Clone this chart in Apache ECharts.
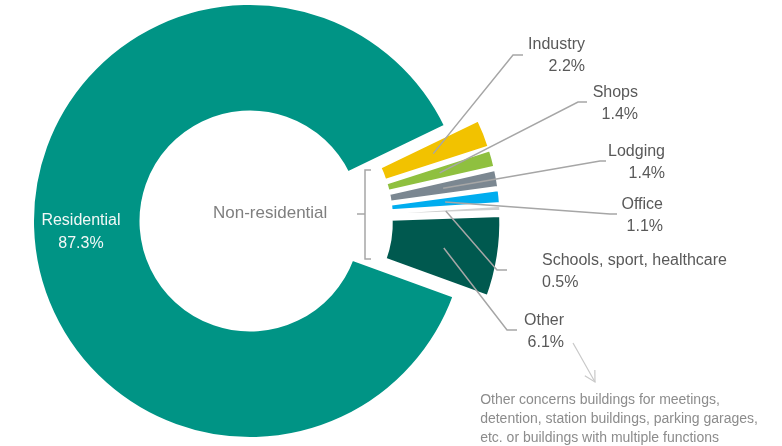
<!DOCTYPE html>
<html>
<head>
<meta charset="utf-8">
<script src="https://cdn.jsdelivr.net/npm/echarts@6/dist/echarts.min.js"></script>
<style>
  html, body { margin: 0; background: #fff; }
  #chart { width: 782px; height: 446px; }
</style>
</head>
<body>
<div id="chart"></div>
<script>
// building floor area by use, share in %
const categories = ['Residential', 'Industry', 'Shops', 'Lodging', 'Office', 'Schools, sport, healthcare', 'Other'];
const shares = [87.3, 2.2, 1.4, 1.4, 1.1, 0.5, 6.1];
const sliceColors = ['#009485', '#F2C200', '#8FC03F', '#7B8791', '#00ADEF', '#D0D0D0', '#00594F'];
const noteLines = [
  'Other concerns buildings for meetings,',
  'detention, station buildings, parking garages,',
  'etc. or buildings with multiple functions'
];

// label placement for the exploded slices: text anchor, align, leader elbow and end
const labelSpots = [
  null,
  { x: 585, y: 56, align: 'right', ex: 513, ey: 55, tx: 523 },
  { x: 638, y: 104, align: 'right', ex: 578, ey: 102, tx: 587 },
  { x: 665, y: 163, align: 'right', ex: 600, ey: 161, tx: 606 },
  { x: 663, y: 216, align: 'right', ex: 610, ey: 214, tx: 617 },
  { x: 542, y: 272, align: 'left', ex: 497, ey: 270, tx: 507 },
  { x: 564, y: 332, align: 'right', ex: 507, ey: 330, tx: 517 }
];

const mainCenter = [250, 221];
const sideCenter = [267, 220];
const ring = [108, 218.5];
const fontFamily = '"Liberation Sans", Arial, sans-serif';

const chart = echarts.init(document.getElementById('chart'));

// mode: 'main' = only residential, 'side' = the exploded small slices, 'labels' = invisible, carries labels
function sliceData(mode) {
  return categories.map((name, i) => {
    const hidden = {
      name: name, value: shares[i],
      itemStyle: { color: 'transparent', borderWidth: 0 },
      label: { show: false }, labelLine: { show: false }
    };
    if (mode === 'main') {
      return i === 0 ? { name: name, value: shares[i], itemStyle: { color: sliceColors[i] } } : hidden;
    }
    if (i === 0) return hidden;
    if (mode === 'side') return { name: name, value: shares[i], selected: true, itemStyle: { color: sliceColors[i] } };
    return { name: name, value: shares[i], itemStyle: { color: 'transparent', borderWidth: 0 } };
  });
}

// little arrow from "Other" down to the note
const arrowFrom = [573, 343], arrowTo = [595, 382];
function headPoint(sign) {
  const a = Math.atan2(arrowFrom[1] - arrowTo[1], arrowFrom[0] - arrowTo[0]) + sign * 0.5;
  return [arrowTo[0] + Math.cos(a) * 12, arrowTo[1] + Math.sin(a) * 12];
}

chart.setOption({
  animation: false,
  series: [
    {
      type: 'pie',
      silent: true,
      center: mainCenter,
      radius: ring,
      startAngle: -20,
      clockwise: true,
      avoidLabelOverlap: false,
      itemStyle: { borderColor: '#fff', borderWidth: 5 },
      label: {
        position: 'inside',
        color: '#F2F8F7',
        fontFamily: fontFamily,
        fontSize: 16,
        lineHeight: 23,
        formatter: p => p.name + '\n' + p.value.toFixed(1) + '%'
      },
      labelLayout: () => ({ dx: -3, dy: 3 }),
      data: sliceData('main')
    },
    {
      type: 'pie',
      silent: true,
      center: sideCenter,
      radius: ring,
      startAngle: -20,
      clockwise: true,
      selectedMode: 'multiple',
      selectedOffset: 16,
      avoidLabelOverlap: false,
      itemStyle: { borderColor: '#fff', borderWidth: 4 },
      select: { itemStyle: { borderColor: '#fff', borderWidth: 4 } },
      label: { show: false },
      labelLine: { show: false },
      data: sliceData('side')
    },
    {
      type: 'pie',
      silent: true,
      z: 3,
      center: sideCenter,
      radius: ring,
      startAngle: -20,
      clockwise: true,
      avoidLabelOverlap: false,
      label: {
        position: 'outside',
        color: '#595959',
        fontFamily: fontFamily,
        fontSize: 16,
        lineHeight: 22,
        formatter: p => p.name + '\n' + p.value.toFixed(1) + '%'
      },
      labelLine: { show: true, lineStyle: { color: '#A6A6A6', width: 1.5 } },
      labelLayout: function (p) {
        const s = labelSpots[p.dataIndex];
        if (!s || !p.labelLinePoints) return {};
        const p0 = p.labelLinePoints[0];
        const dx = p0[0] - sideCenter[0], dy = p0[1] - sideCenter[1];
        const d = Math.sqrt(dx * dx + dy * dy);
        const start = [sideCenter[0] + dx / d * 179, sideCenter[1] + dy / d * 179];
        return {
          x: s.x, y: s.y, align: s.align, verticalAlign: 'middle',
          labelLinePoints: [start, [s.ex, s.ey], [s.tx, s.ey]]
        };
      },
      data: sliceData('labels')
    }
  ],
  graphic: [
    {
      type: 'text', left: 213, top: 205,
      style: { text: 'Non-residential', fill: '#7F7F7F', fontSize: 17, fontFamily: fontFamily }
    },
    {
      type: 'polyline',
      shape: { points: [[371, 170], [365, 170], [365, 259], [371, 259]] },
      style: { stroke: '#A6A6A6', lineWidth: 1.5, fill: null }
    },
    {
      type: 'line',
      shape: { x1: 365, y1: 214, x2: 357, y2: 214 },
      style: { stroke: '#A6A6A6', lineWidth: 1.5 }
    },
    {
      type: 'line',
      shape: { x1: arrowFrom[0], y1: arrowFrom[1], x2: arrowTo[0], y2: arrowTo[1] },
      style: { stroke: '#C8C8C8', lineWidth: 1.2 }
    },
    {
      type: 'polyline',
      shape: { points: [headPoint(1), arrowTo, headPoint(-1)] },
      style: { stroke: '#C8C8C8', lineWidth: 1.2, fill: null }
    },
    {
      type: 'text', right: 24, top: 391,
      style: {
        text: noteLines.join('\n'), fill: '#8C8C8C', fontSize: 14, lineHeight: 19,
        align: 'right', fontFamily: fontFamily
      }
    }
  ]
});
</script>
</body>
</html>
